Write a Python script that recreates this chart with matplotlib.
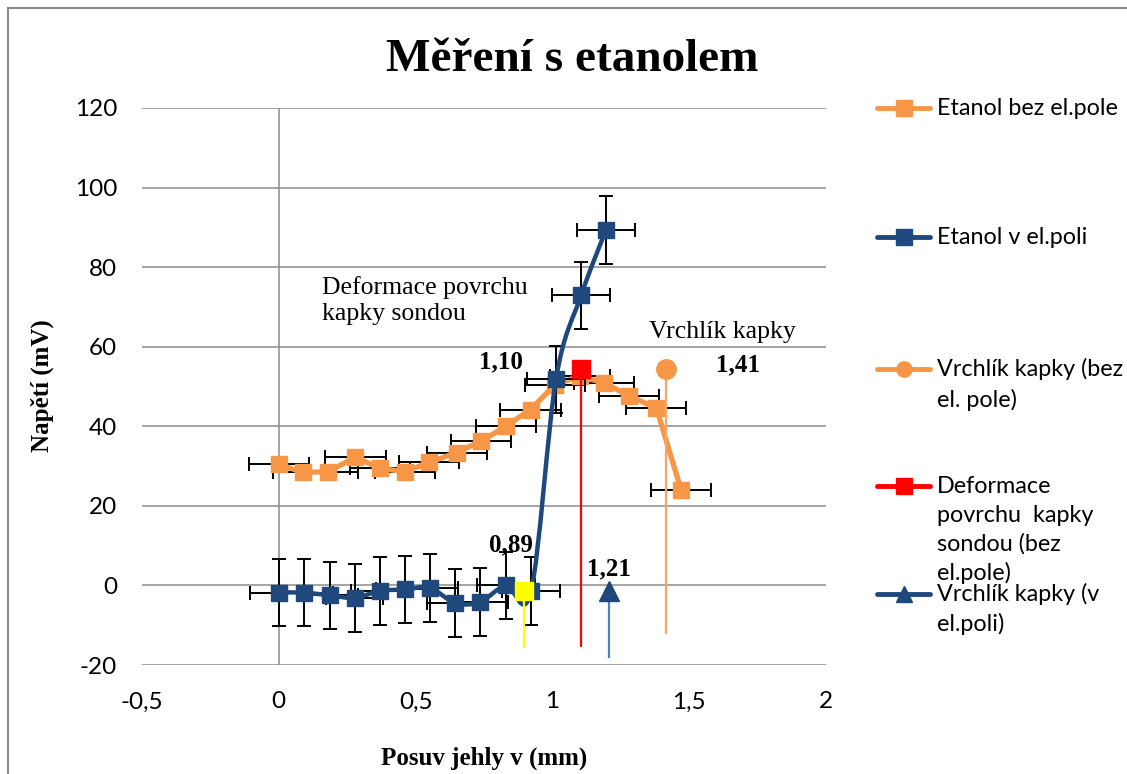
import numpy as np
import matplotlib
matplotlib.use("Agg")
import matplotlib.pyplot as plt
from matplotlib.path import Path
from matplotlib.patches import PathPatch
from matplotlib.lines import Line2D
from matplotlib.ticker import FuncFormatter, MultipleLocator

# --- data ---
# Etanol bez el.pole (orange squares)
orange_x = [0, 0.09, 0.18, 0.28, 0.37, 0.46, 0.55, 0.65, 0.74, 0.83, 0.92,
            1.01, 1.10, 1.19, 1.28, 1.38, 1.47]
orange_y = [30.4, 28.4, 28.6, 32.2, 29.4, 28.6, 30.9, 33.4, 36.3, 40.0, 44.2,
            50.5, 52.6, 50.9, 47.6, 44.6, 24.1]
orange_xerr = 0.11
orange_yerr = 1.5

# Etanol v el.poli (blue squares, smoothed line)
blue_x = [0, 0.092, 0.186, 0.277, 0.369, 0.46, 0.551, 0.645, 0.734, 0.83,
          0.922, 1.013, 1.105, 1.196]
blue_y = [-1.8, -1.8, -2.5, -3.1, -1.4, -1.0, -0.6, -4.4, -4.2, 0.0,
          -1.4, 51.8, 72.9, 89.4]
blue_xerr = 0.105
blue_yerr = 8.5

# single marked points: x, y, length of the drop line, label
vrchlik_bez = (1.415, 54.4, 66.7, "1,41")
deformace = (1.105, 54.4, 70.0, "1,10")
vrchlik_v = (1.208, -1.4, 16.8, "1,21")
yellow_pt = (0.895, -1.4, 14.3, "0,89")

legend_labels = ["Etanol bez el.pole",
                 "Etanol v el.poli",
                 "Vrchlík kapky (bez\nel. pole)",
                 "Deformace\npovrchu  kapky\nsondou (bez\nel.pole)",
                 "Vrchlík kapky (v\nel.poli)"]

ORANGE = "#F79646"
BLUE = "#1F497D"
GRID = "#8c8c8c"
W, H = 1127, 774

sans = ["Lato", "DejaVu Sans"]
serif = ["Liberation Serif", "DejaVu Serif"]


def px(x, y):
    # figure pixel -> figure fraction
    return x / W, 1 - y / H


def smooth_path(xs, ys):
    # Catmull-Rom style bezier like the smoothed line in Excel
    p = np.column_stack([xs, ys])
    n = len(p)
    verts = [p[0]]
    codes = [Path.MOVETO]
    for i in range(n - 1):
        p0 = p[i - 1] if i > 0 else p[i]
        p3 = p[i + 2] if i + 2 < n else p[i + 1]
        c1 = p[i] + (p[i + 1] - p0) / 6
        c2 = p[i + 1] - (p3 - p[i]) / 6
        verts += [c1, c2, p[i + 1]]
        codes += [Path.CURVE4] * 3
    return Path(verts, codes)


fig = plt.figure(figsize=(W / 100, H / 100), dpi=100)
ax = fig.add_axes([142 / W, 1 - 665 / H, (826 - 142) / W, (665 - 108) / H])

ax.set_xlim(-0.5, 2)
ax.set_ylim(-20, 120)
ax.xaxis.set_major_locator(MultipleLocator(0.5))
ax.yaxis.set_major_locator(MultipleLocator(20))
fmt = FuncFormatter(lambda v, pos: f"{v:g}".replace(".", ","))
ax.xaxis.set_major_formatter(fmt)
ax.yaxis.set_major_formatter(fmt)
for s in ax.spines.values():
    s.set_visible(False)
ax.tick_params(length=0, labelsize=17.5)
ax.tick_params(axis="x", pad=19)
ax.tick_params(axis="y", pad=18)
for lab in ax.get_xticklabels() + ax.get_yticklabels():
    lab.set_fontfamily(sans)
ax.grid(axis="y", color=GRID, lw=1.1)
ax.axvline(0, color=GRID, lw=1.1, zorder=0.5)
ax.set_axisbelow(True)

# orange series
ax.errorbar(orange_x, orange_y, xerr=orange_xerr, yerr=orange_yerr, fmt="none",
            ecolor="black", elinewidth=1.4, capsize=5, capthick=1.4, zorder=2)
ax.plot(orange_x, orange_y, color=ORANGE, lw=3.8, marker="s", ms=12,
        zorder=3)

# blue series
ax.errorbar(blue_x, blue_y, xerr=blue_xerr, yerr=blue_yerr, fmt="none",
            ecolor="black", elinewidth=1.4, capsize=5, capthick=1.4, zorder=4)
ax.add_patch(PathPatch(smooth_path(blue_x, blue_y), fill=False, edgecolor=BLUE,
                       lw=3.2, zorder=5))
ax.plot(blue_x, blue_y, ls="none", color=BLUE, marker="s", ms=12, zorder=6)

# single points with drop lines
specials = [(vrchlik_bez, ORANGE, "#F4A76A", "o", 14, (52, 3)),
            (deformace, "#FF0000", "#FF0000", "s", 13, (-58, 5)),
            (vrchlik_v, BLUE, "#4F81BD", "^", 14, (0, 16)),
            (yellow_pt, "#FFFF00", "#FFFF00", "s", 13, (-9, 33))]
for (x, y, drop, lab), mc, lc, mk, ms, off in specials:
    ax.errorbar([x], [y], yerr=[[drop], [0]], fmt="none", ecolor=lc,
                elinewidth=1.6, capsize=0, zorder=7)
    ax.plot([x], [y], ls="none", marker=mk, ms=ms, color=mc, zorder=8)
    ax.annotate(lab, (x, y), xytext=off, textcoords="offset points",
                ha="center", va="center", fontsize=18, fontweight="bold",
                fontfamily=serif, zorder=9)

ax.text(0.157, 71.6, "Deformace povrchu\nkapky sondou", fontsize=18.5,
        fontfamily=serif, va="center", ha="left", linespacing=1.2)
ax.text(1.354, 63.8, "Vrchlík kapky", fontsize=18.5, fontfamily=serif,
        va="center", ha="left")

fig.text(*px(572, 60), "Měření s etanolem", fontsize=34, fontweight="bold",
         fontfamily=serif, ha="center", va="center")
fig.text(*px(484, 758), "Posuv jehly v (mm)", fontsize=18, fontweight="bold",
         fontfamily=serif, ha="center", va="center")
fig.text(*px(42, 386), "Napětí (mV)", fontsize=18, fontweight="bold",
         fontfamily=serif, ha="center", va="center", rotation=90)

# legend drawn by hand to follow the uneven spacing of the original
leg_style = [(ORANGE, "s"), (BLUE, "s"), (ORANGE, "o"), ("#FF0000", "s"),
             (BLUE, "^")]
leg_y = [108, 237, 369, 486, 594]
leg_step = [31, 31, 31, 29, 30]
for (c, mk), y0, step, lab in zip(leg_style, leg_y, leg_step, legend_labels):
    fx0, fy = px(877, y0)
    fx1, _ = px(930, y0)
    fig.add_artist(Line2D([fx0, fx1], [fy, fy], color=c, lw=3.5,
                          solid_capstyle="round", transform=fig.transFigure))
    fig.add_artist(Line2D([(fx0 + fx1) / 2], [fy], color=c, marker=mk, ms=11,
                          transform=fig.transFigure))
    for k, line in enumerate(lab.split("\n")):
        fig.text(*px(937, y0 + step * k + 7), line, fontsize=16.8,
                 fontfamily=sans, ha="left", va="baseline")

# chart frame (cut at the right and bottom in the original)
fig.add_artist(Line2D([8 / W, 8 / W], [0, 1 - 8 / H], color=GRID, lw=1.5,
                      transform=fig.transFigure))
fig.add_artist(Line2D([8 / W, 1], [1 - 8 / H, 1 - 8 / H], color=GRID, lw=1.5,
                      transform=fig.transFigure))

fig.savefig("out.png", dpi=100)
